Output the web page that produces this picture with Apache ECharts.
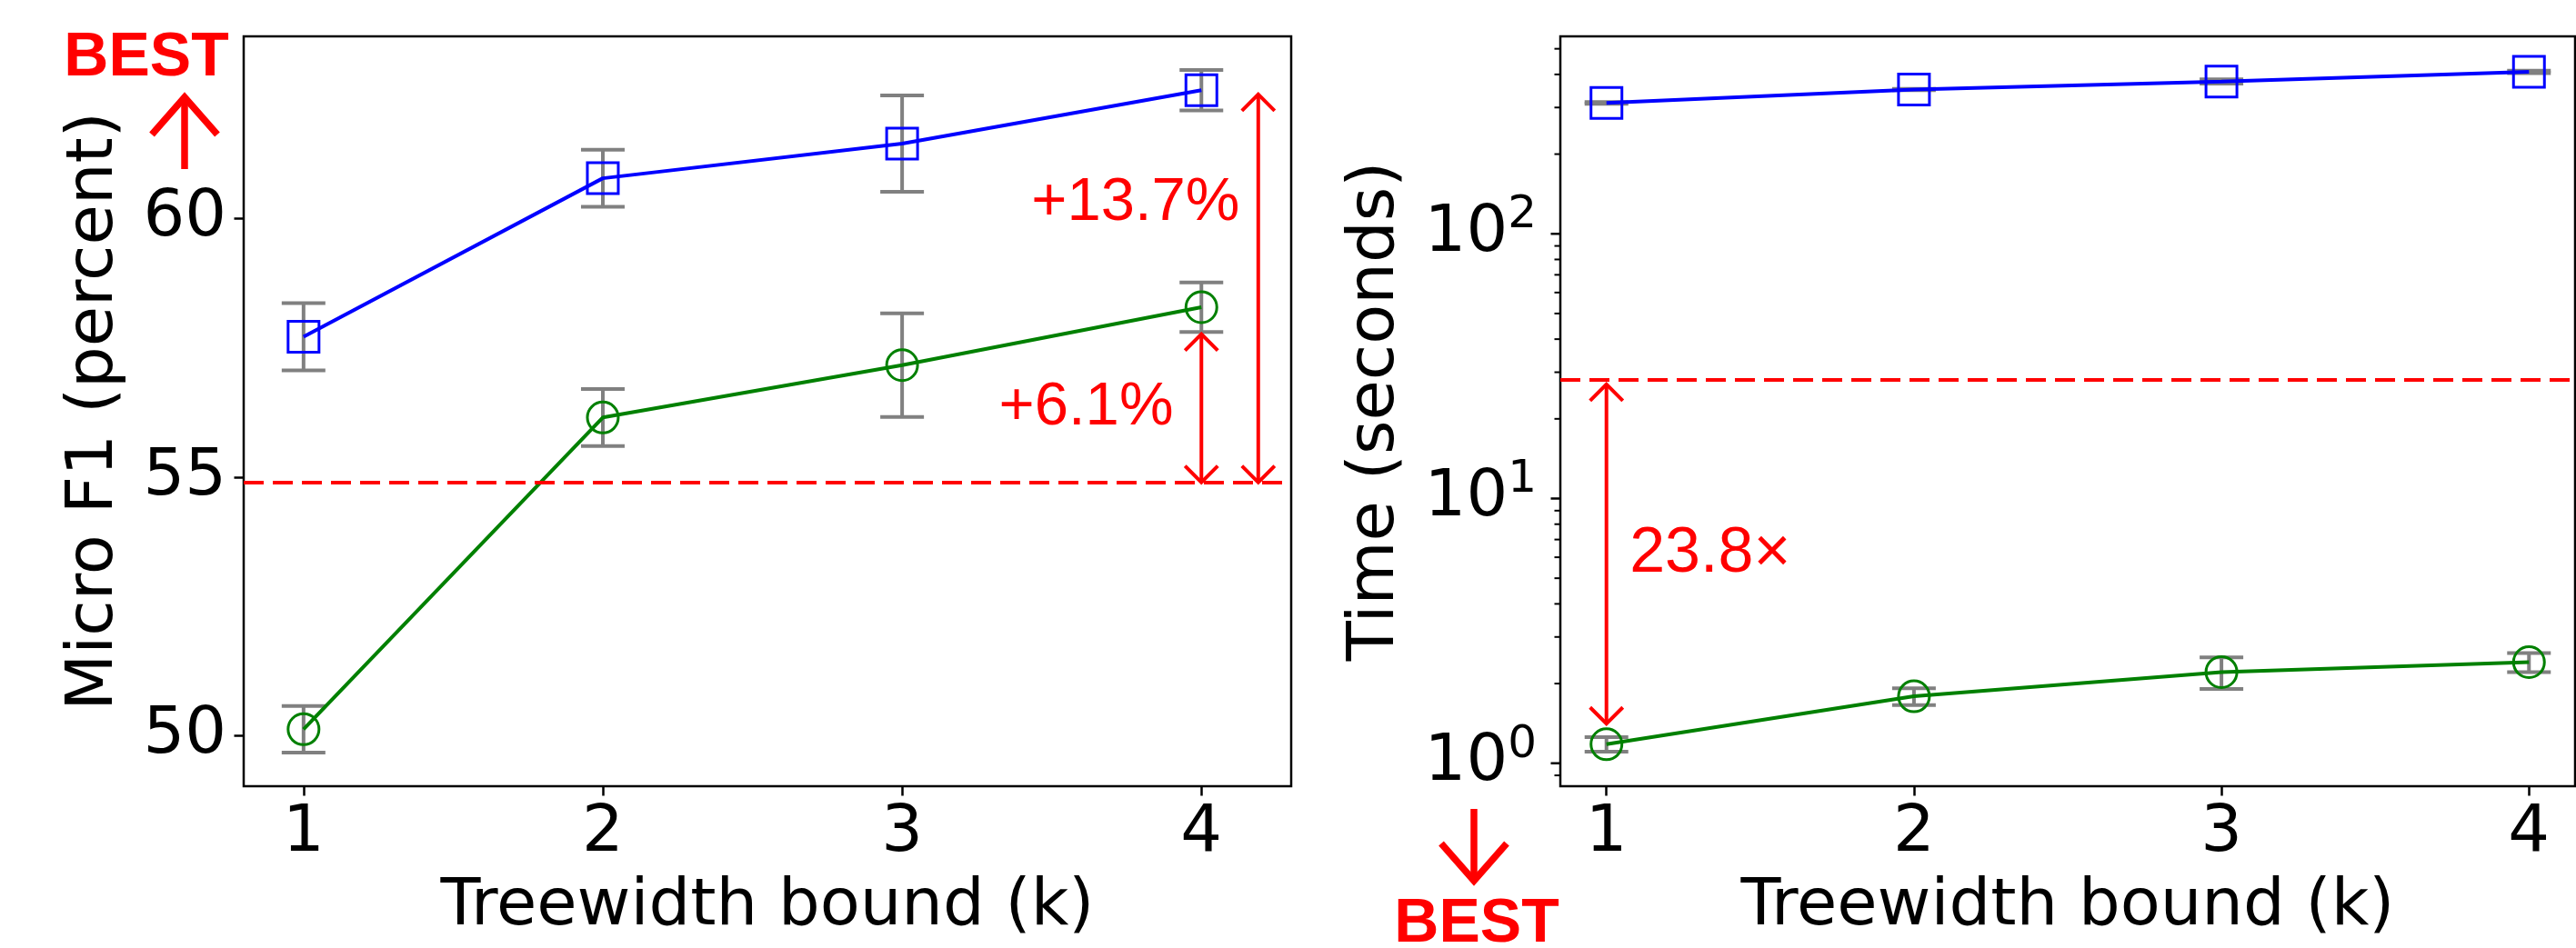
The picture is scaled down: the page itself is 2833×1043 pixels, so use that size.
<!DOCTYPE html>
<html>
<head>
<meta charset="utf-8">
<script src="https://cdn.jsdelivr.net/npm/echarts@6/dist/echarts.min.js"></script>
<style>
  html, body { margin: 0; padding: 0; background: #fff; }
  #main { width: 2833px; height: 1043px; }
</style>
</head>
<body>
<div id="main"></div>
<script>
// treewidth bound k
var treewidth = [1, 2, 3, 4];

// left panel: micro F1 (percent)
var f1Blue = [57.71, 60.77, 61.44, 62.47];
var f1BlueErr = [0.65, 0.55, 0.93, 0.39];
var f1Green = [50.13, 56.15, 57.16, 58.28];
var f1GreenErr = [0.45, 0.55, 1.0, 0.48];
var f1Baseline = 54.9;
var f1Ticks = [50, 55, 60];

// right panel: time (seconds), log scale
var timeBlue = [312, 351, 376, 409];
var timeBlueErr = [2.5, 2, 7, 4.5];
var timeGreen = [1.18, 1.79, 2.21, 2.41];
var timeGreenErr = [0.075, 0.13, 0.3, 0.2];
var timeBaseline = 28.2;
var timeMajor = [1, 10, 100];
var timeMinor = [0.9, 2, 3, 4, 5, 6, 7, 8, 9, 20, 30, 40, 50, 60, 70, 80, 90, 200, 300, 400, 500];

// annotations
var f1Arrows = [[4, f1Baseline, 57.76], [4.19, f1Baseline, 62.39]];
var f1Notes = ['+13.7%', '+6.1%'];
var f1NotePos = [[3.78, 60.29], [3.615, 56.34]];
var timeArrows = [[1, 27.0, 1.41]];
var timeNotes = ['23.8×'];
var timeNotePos = [[1.337, 6.15]];

var BLUE = '#0000ff', GREEN = '#008000', RED = '#ff0000', GREY = '#808080';
var TICK_FONT = 'DejaVu Sans';

var xMinL = 0.8, xMaxL = 4.3, xMinR = 0.85, xMaxR = 4.15;

function pairs(ys) {
  return treewidth.map(function (k, i) { return [k, ys[i]]; });
}
function errRows(ys, es) {
  return treewidth.map(function (k, i) { return [k, ys[i] - es[i], ys[i] + es[i]]; });
}

function errorBar(xi, ys, es) {
  return {
    type: 'custom', xAxisIndex: xi, yAxisIndex: xi, z: 1, silent: true,
    data: errRows(ys, es),
    renderItem: function (params, api) {
      var lo = api.coord([api.value(0), api.value(1)]);
      var hi = api.coord([api.value(0), api.value(2)]);
      var w = 24, st = { stroke: GREY, lineWidth: 4 };
      return {
        type: 'group',
        children: [
          { type: 'line', shape: { x1: lo[0], y1: lo[1], x2: hi[0], y2: hi[1] }, style: st },
          { type: 'line', shape: { x1: lo[0] - w, y1: lo[1], x2: lo[0] + w, y2: lo[1] }, style: st },
          { type: 'line', shape: { x1: hi[0] - w, y1: hi[1], x2: hi[0] + w, y2: hi[1] }, style: st }
        ]
      };
    }
  };
}

function lineSeries(xi, ys, color, symbol, baseline) {
  var s = {
    type: 'line', xAxisIndex: xi, yAxisIndex: xi, z: 3,
    data: pairs(ys),
    symbol: symbol, symbolSize: 34, showAllSymbol: true,
    itemStyle: { color: 'rgba(0,0,0,0)', borderColor: color, borderWidth: 3 },
    lineStyle: { color: color, width: 4 },
    emphasis: { disabled: true }
  };
  if (baseline != null) {
    s.markLine = {
      silent: true, symbol: ['none', 'none'], label: { show: false },
      lineStyle: { color: RED, type: [22, 10], width: 4 },
      data: [{ yAxis: baseline }]
    };
  }
  return s;
}

// double headed arrows between two values at one x
function arrowSeries(xi, rows) {
  return {
    type: 'custom', xAxisIndex: xi, yAxisIndex: xi, z: 4, silent: true, clip: false,
    data: rows,
    renderItem: function (params, api) {
      var a = api.coord([api.value(0), api.value(1)]);
      var b = api.coord([api.value(0), api.value(2)]);
      var top = a[1] < b[1] ? a : b, bot = a[1] < b[1] ? b : a;
      var h = 18, st = { stroke: RED, lineWidth: 4, fill: null };
      return {
        type: 'group',
        children: [
          { type: 'line', shape: { x1: top[0], y1: top[1], x2: bot[0], y2: bot[1] }, style: st },
          { type: 'polyline', shape: { points: [[top[0] - h, top[1] + h], [top[0], top[1]], [top[0] + h, top[1] + h]] }, style: st },
          { type: 'polyline', shape: { points: [[bot[0] - h, bot[1] - h], [bot[0], bot[1]], [bot[0] + h, bot[1] - h]] }, style: st }
        ]
      };
    }
  };
}

function noteSeries(xi, pos, texts, size) {
  return {
    type: 'custom', xAxisIndex: xi, yAxisIndex: xi, z: 5, silent: true, clip: false,
    data: pos,
    renderItem: function (params, api) {
      var p = api.coord([api.value(0), api.value(1)]);
      return {
        type: 'text', x: p[0], y: p[1],
        style: {
          text: texts[params.dataIndex], fill: RED, fontSize: size,
          fontFamily: 'Liberation Sans', align: 'center', verticalAlign: 'middle'
        }
      };
    }
  };
}

// ticks of the log axis (major + minor), drawn on the left edge of the right panel
function logTicks(vals, len, width) {
  return {
    type: 'custom', xAxisIndex: 1, yAxisIndex: 1, z: 2, silent: true, clip: false,
    data: vals.map(function (v) { return [xMinR, v]; }),
    renderItem: function (params, api) {
      var p = api.coord([api.value(0), api.value(1)]);
      return {
        type: 'line',
        shape: { x1: p[0] - len, y1: p[1], x2: p[0], y2: p[1] },
        style: { stroke: '#000', lineWidth: width }
      };
    }
  };
}

var tickLabel = { fontSize: 72, fontFamily: TICK_FONT, color: '#000' };
var nameStyle = { fontSize: 72, fontFamily: TICK_FONT, color: '#000' };
var tickStyle = { length: 10.5, lineStyle: { color: '#000', width: 2.5 } };

var option = {
  backgroundColor: '#fff',
  animation: false,
  grid: [
    { left: 268, top: 40, width: 1152, height: 825, show: true, borderColor: '#000', borderWidth: 2.5, backgroundColor: 'transparent' },
    { left: 1716, top: 40, width: 1116, height: 825, show: true, borderColor: '#000', borderWidth: 2.5, backgroundColor: 'transparent' }
  ],
  xAxis: [
    {
      gridIndex: 0, type: 'value', min: xMinL, max: xMaxL,
      axisLine: { show: false }, splitLine: { show: false },
      axisTick: Object.assign({ customValues: treewidth }, tickStyle),
      axisLabel: Object.assign({ customValues: treewidth, margin: 16 }, tickLabel),
      name: 'Treewidth bound (k)', nameLocation: 'middle', nameGap: 97, nameTextStyle: nameStyle
    },
    {
      gridIndex: 1, type: 'value', min: xMinR, max: xMaxR,
      axisLine: { show: false }, splitLine: { show: false },
      axisTick: Object.assign({ customValues: treewidth }, tickStyle),
      axisLabel: Object.assign({ customValues: treewidth, margin: 16 }, tickLabel),
      name: 'Treewidth bound (k)', nameLocation: 'middle', nameGap: 97, nameTextStyle: nameStyle
    }
  ],
  yAxis: [
    {
      gridIndex: 0, type: 'value', min: 49.03, max: 63.51,
      axisLine: { show: false }, splitLine: { show: false },
      axisTick: Object.assign({ customValues: f1Ticks }, tickStyle),
      axisLabel: Object.assign({ customValues: f1Ticks, margin: 19 }, tickLabel),
      name: 'Micro F1 (percent)', nameLocation: 'middle', nameRotate: 90, nameGap: 128, nameTextStyle: nameStyle
    },
    {
      gridIndex: 1, type: 'log', logBase: 10, min: 0.819, max: 557,
      axisLine: { show: false }, splitLine: { show: false }, minorTick: { show: false },
      axisTick: { show: false },
      axisLabel: {
        margin: 26,
        formatter: function (v) {
          var l = Math.log(v) / Math.LN10;
          if (Math.abs(l - Math.round(l)) > 1e-6) return '';
          return '{b|10}{s|' + Math.round(l) + '}';
        },
        rich: {
          b: { fontSize: 72, fontFamily: TICK_FONT, color: '#000', lineHeight: 90 },
          s: { fontSize: 50, fontFamily: TICK_FONT, color: '#000', lineHeight: 50, verticalAlign: 'top' }
        }
      },
      name: 'Time (seconds)', nameLocation: 'middle', nameRotate: 90, nameGap: 167, nameTextStyle: nameStyle
    }
  ],
  graphic: [
    { type: 'text', x: 161, y: 64, style: { text: 'BEST', fill: RED, fontSize: 68, fontWeight: 'bold', fontFamily: 'Liberation Sans', align: 'center', verticalAlign: 'middle' } },
    { type: 'line', shape: { x1: 203, y1: 186, x2: 203, y2: 110 }, style: { stroke: RED, lineWidth: 7.5 } },
    { type: 'polyline', shape: { points: [[167, 148], [203, 107], [239, 148]] }, style: { stroke: RED, lineWidth: 7.5, fill: null } },
    { type: 'line', shape: { x1: 1621, y1: 890, x2: 1621, y2: 966 }, style: { stroke: RED, lineWidth: 7.5 } },
    { type: 'polyline', shape: { points: [[1585, 928], [1621, 969], [1657, 928]] }, style: { stroke: RED, lineWidth: 7.5, fill: null } },
    { type: 'text', x: 1624, y: 1017, style: { text: 'BEST', fill: RED, fontSize: 68, fontWeight: 'bold', fontFamily: 'Liberation Sans', align: 'center', verticalAlign: 'middle' } }
  ],
  series: [
    errorBar(0, f1Blue, f1BlueErr),
    errorBar(0, f1Green, f1GreenErr),
    lineSeries(0, f1Blue, BLUE, 'rect'),
    lineSeries(0, f1Green, GREEN, 'circle', f1Baseline),
    arrowSeries(0, f1Arrows),
    noteSeries(0, f1NotePos, f1Notes, 67),

    logTicks(timeMajor, 10.5, 2.5),
    logTicks(timeMinor, 6.5, 2),
    errorBar(1, timeBlue, timeBlueErr),
    errorBar(1, timeGreen, timeGreenErr),
    lineSeries(1, timeBlue, BLUE, 'rect'),
    lineSeries(1, timeGreen, GREEN, 'circle', timeBaseline),
    arrowSeries(1, timeArrows),
    noteSeries(1, timeNotePos, timeNotes, 70)
  ]
};

var chart = echarts.init(document.getElementById('main'));
chart.setOption(option);
</script>
</body>
</html>
